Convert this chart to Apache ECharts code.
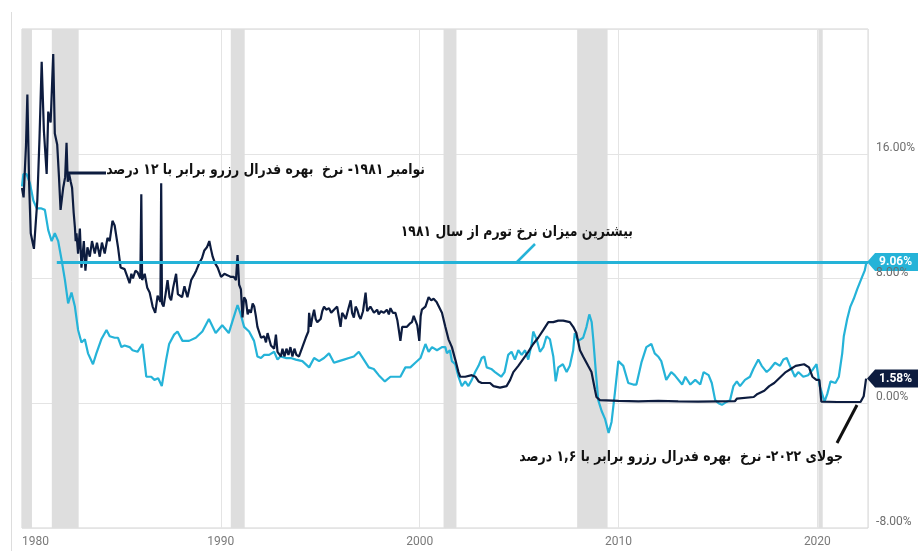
<!DOCTYPE html>
<html>
<head>
<meta charset="utf-8">
<script src="https://cdn.jsdelivr.net/npm/echarts@6/dist/echarts.min.js"></script>
<style>
html,body{margin:0;padding:0;background:#fff;}
#main{width:918px;height:551px;}
</style>
</head>
<body>
<div id="main"></div>
<script>
// نرخ بهره فدرال رزرو (سال اعشاری، درصد)
const fedRate = [
  [1980.00,13.8],[1980.08,13.2],[1980.2,16.5],[1980.27,19.8],[1980.36,14.0],[1980.44,10.9],[1980.6,9.9],[1980.77,13.0],[1980.88,17.0],[1980.99,21.9],
  [1981.1,17.5],[1981.24,14.7],[1981.32,18.7],[1981.44,18.0],[1981.57,22.4],[1981.65,17.3],[1981.77,16.6],[1981.86,14.5],[1981.94,12.4],
  [1982.07,13.8],[1982.17,14.5],[1982.24,16.7],[1982.3,14.2],[1982.37,14.7],[1982.45,14.2],[1982.52,13.8],[1982.6,12.2],[1982.66,11.3],[1982.7,10.4],
  [1982.74,10.9],[1982.82,9.6],[1982.91,11.2],[1982.99,8.7],[1983.11,10.4],[1983.19,8.5],[1983.29,10.0],[1983.41,9.4],[1983.52,10.4],[1983.66,9.6],
  [1983.77,10.3],[1983.91,9.4],[1984.02,10.3],[1984.16,9.6],[1984.3,10.6],[1984.41,10.4],[1984.55,11.7],[1984.66,11.4],[1984.83,10.0],[1984.96,8.7],
  [1985.16,8.6],[1985.3,8.1],[1985.41,7.7],[1985.5,8.3],[1985.58,8.0],[1985.7,8.5],[1985.81,8.4],[1985.95,8.0],[1986.0,13.4],[1986.04,7.9],
  [1986.17,8.3],[1986.3,7.4],[1986.42,7.1],[1986.57,6.2],[1986.7,5.8],[1986.82,6.9],[1986.96,6.5],[1987.0,14.1],[1987.04,6.4],[1987.12,6.2],
  [1987.22,7.0],[1987.32,7.9],[1987.42,6.8],[1987.5,6.6],[1987.6,7.4],[1987.75,8.3],[1987.84,7.0],[1987.92,7.1],[1988.05,6.8],[1988.17,7.5],
  [1988.32,6.8],[1988.51,7.9],[1988.64,8.2],[1988.76,8.5],[1988.92,9.0],[1989.05,9.3],[1989.17,9.8],[1989.3,10.0],[1989.42,10.4],[1989.5,9.9],
  [1989.59,9.4],[1989.7,9.0],[1989.84,8.7],[1990.01,8.1],[1990.18,8.3],[1990.35,8.2],[1990.51,8.1],[1990.65,8.1],[1990.76,7.9],[1990.84,9.5],
  [1990.92,7.6],[1991.01,7.3],[1991.09,5.5],[1991.17,6.8],[1991.26,6.6],[1991.35,5.7],[1991.42,6.0],[1991.51,5.8],[1991.6,6.4],[1991.68,6.2],
  [1991.76,5.6],[1991.84,4.9],[1991.93,4.9],[1992.02,4.2],[1992.1,4.2],[1992.18,4.3],[1992.27,3.9],[1992.35,4.5],[1992.43,4.5],[1992.52,3.7],
  [1992.6,3.8],[1992.68,3.5],[1992.77,4.4],[1992.85,3.3],[1993.02,3.0],[1993.1,3.5],[1993.2,3.0],[1993.3,3.5],[1993.4,3.1],[1993.5,3.6],
  [1993.6,3.0],[1993.7,3.5],[1993.8,3.1],[1993.93,3.0],[1994.1,3.6],[1994.27,4.2],[1994.4,4.6],[1994.44,5.8],[1994.52,4.9],[1994.6,5.5],
  [1994.69,6.0],[1994.77,5.4],[1994.85,5.2],[1995.02,5.4],[1995.1,5.9],[1995.19,6.2],[1995.3,6.0],[1995.44,6.1],[1995.55,5.8],[1995.69,6.0],
  [1995.85,6.2],[1996.02,4.9],[1996.1,5.8],[1996.2,5.6],[1996.28,5.4],[1996.4,6.0],[1996.53,6.6],[1996.6,5.8],[1996.69,5.5],[1996.78,6.2],
  [1996.86,6.0],[1996.95,5.6],[1997.03,5.4],[1997.15,5.9],[1997.28,7.1],[1997.36,5.9],[1997.44,5.8],[1997.52,6.2],[1997.6,6.1],[1997.7,5.8],
  [1997.78,5.8],[1997.86,6.0],[1997.94,5.7],[1998.05,5.9],[1998.2,5.8],[1998.35,6.0],[1998.45,5.7],[1998.53,6.1],[1998.65,5.8],[1998.78,5.8],
  [1998.88,5.3],[1998.95,4.7],[1999.03,4.0],[1999.12,4.9],[1999.2,4.8],[1999.36,4.9],[1999.5,5.1],[1999.61,5.2],[1999.7,5.6],[1999.78,5.5],
  [1999.88,5.0],[1999.98,4.0],[2000.05,5.6],[2000.11,6.0],[2000.29,6.2],[2000.45,6.8],[2000.58,6.6],[2000.7,6.7],[2000.85,6.5],[2000.95,6.6],
  [2001.12,5.8],[2001.29,4.9],[2001.45,4.1],[2001.62,3.6],[2001.79,2.8],[2001.95,2.0],[2002.04,1.7],[2002.29,1.7],[2002.62,1.8],[2002.8,1.7],
  [2002.96,1.4],[2003.12,1.3],[2003.54,1.3],[2003.71,1.1],[2004.04,1.0],[2004.37,1.1],[2004.55,1.5],[2004.71,2.0],[2004.96,2.4],[2005.13,2.7],
  [2005.3,3.0],[2005.46,3.3],[2005.71,3.8],[2005.96,4.2],[2006.22,4.7],[2006.47,5.2],[2006.72,5.2],[2006.97,5.3],[2007.22,5.3],[2007.55,5.2],
  [2007.72,4.9],[2007.88,4.5],[2008.06,3.4],[2008.22,3.0],[2008.47,2.4],[2008.64,2.0],[2008.81,0.9],[2008.89,0.4],[2009.06,0.2],[2010.0,0.15],
  [2011.0,0.12],[2012.0,0.15],[2013.0,0.12],[2014.0,0.1],[2015.0,0.12],[2015.85,0.13],[2015.96,0.3],[2016.8,0.4],[2016.99,0.6],[2017.33,0.8],
  [2017.58,1.1],[2017.83,1.3],[2018.16,1.7],[2018.41,2.0],[2018.66,2.2],[2018.91,2.4],[2019.33,2.5],[2019.58,2.3],[2019.75,1.7],[2019.95,1.5],
  [2020.1,1.5],[2020.2,0.1],[2020.3,0.05],[2021.0,0.08],[2022.17,0.08],[2022.25,0.2],[2022.33,0.45],[2022.45,1.58]
]

// نرخ تورم سالانه
const inflation = [
  [1980.0,13.9],[1980.07,14.7],[1980.23,14.7],[1980.4,14.1],[1980.57,13.0],[1980.74,12.5],[1980.95,12.5],[1981.15,12.4],[1981.32,11.1],[1981.49,10.4],
  [1981.65,10.9],[1981.82,10.4],[1981.99,9.2],[1982.16,7.9],[1982.32,6.4],[1982.49,7.1],[1982.66,6.2],[1982.82,4.7],[1982.99,3.9],[1983.16,4.1],
  [1983.32,3.2],[1983.57,2.5],[1983.74,3.2],[1983.99,4.1],[1984.25,4.7],[1984.41,4.3],[1984.66,4.2],[1984.83,4.2],[1985.0,3.6],[1985.16,3.7],
  [1985.41,3.6],[1985.56,3.4],[1985.81,3.3],[1986.06,3.8],[1986.25,1.7],[1986.5,1.7],[1986.66,1.5],[1986.85,1.6],[1987.03,1.1],[1987.25,2.8],
  [1987.4,3.8],[1987.65,4.4],[1987.82,4.6],[1988.07,4.0],[1988.4,4.0],[1988.74,4.2],[1989.07,4.6],[1989.4,5.4],[1989.74,4.5],[1990.07,5.0],
  [1990.4,4.5],[1990.57,5.2],[1990.84,6.3],[1991.0,5.7],[1991.17,4.9],[1991.42,4.6],[1991.67,4.0],[1991.84,3.0],[1992.02,2.9],[1992.18,3.1],
  [1992.43,3.1],[1992.68,3.3],[1992.85,2.8],[1993.0,3.0],[1993.27,2.9],[1993.52,2.9],[1993.77,2.8],[1994.1,2.7],[1994.44,2.3],[1994.69,2.9],
  [1994.94,2.7],[1995.19,2.9],[1995.44,3.2],[1995.69,2.6],[1995.94,2.7],[1996.19,2.8],[1996.44,2.9],[1996.69,3.0],[1996.94,3.3],[1997.19,2.8],
  [1997.44,2.3],[1997.69,2.2],[1997.94,1.8],[1998.25,1.4],[1998.53,1.7],[1998.78,1.7],[1999.03,1.7],[1999.28,2.3],[1999.53,2.3],[1999.78,2.6],
  [2000.04,2.9],[2000.29,3.8],[2000.45,3.3],[2000.62,3.6],[2000.87,3.4],[2001.12,3.6],[2001.29,3.6],[2001.37,3.2],[2001.52,3.4],[2001.62,2.7],
  [2001.79,2.5],[2001.95,1.7],[2002.12,1.1],[2002.29,1.4],[2002.45,1.1],[2002.62,1.5],[2002.79,2.0],[2002.96,2.4],[2003.12,2.9],[2003.25,3.0],
  [2003.37,2.3],[2003.6,2.2],[2003.79,2.0],[2004.1,1.7],[2004.27,2.0],[2004.45,3.1],[2004.62,3.3],[2004.79,2.8],[2004.96,3.4],[2005.13,3.1],
  [2005.3,3.4],[2005.46,2.8],[2005.63,3.8],[2005.71,4.6],[2005.88,4.1],[2006.05,3.3],[2006.22,3.6],[2006.38,4.3],[2006.55,4.1],[2006.72,3.0],
  [2006.84,1.4],[2006.97,2.3],[2007.2,2.5],[2007.39,2.0],[2007.55,2.4],[2007.72,3.4],[2007.8,4.5],[2007.97,4.0],[2008.22,4.2],[2008.39,4.9],
  [2008.53,5.7],[2008.65,5.2],[2008.73,4.1],[2008.86,2.0],[2008.98,0.2],[2009.15,-0.5],[2009.32,-1.0],[2009.5,-1.9],[2009.65,-1.2],[2009.82,0.7],
  [2009.99,2.7],[2010.24,2.4],[2010.49,1.3],[2010.74,1.2],[2010.9,1.2],[2011.15,2.6],[2011.4,3.6],[2011.65,3.8],[2011.82,3.2],[2011.99,3.0],
  [2012.15,2.7],[2012.4,1.5],[2012.65,2.0],[2012.82,1.8],[2013.2,1.2],[2013.36,1.7],[2013.61,1.2],[2013.86,1.5],[2014.11,1.2],[2014.28,2.0],
  [2014.53,1.8],[2014.69,1.3],[2014.86,0.2],[2015.03,0.0],[2015.2,-0.1],[2015.45,0.1],[2015.61,0.2],[2015.78,1.1],[2015.95,1.4],[2016.11,1.1],
  [2016.36,1.5],[2016.61,1.7],[2016.78,2.2],[2017.03,2.8],[2017.2,2.4],[2017.45,2.0],[2017.62,2.2],[2017.87,2.6],[2018.12,2.4],[2018.29,2.8],
  [2018.46,2.9],[2018.62,2.4],[2018.87,1.7],[2019.04,2.0],[2019.29,1.7],[2019.54,1.8],[2019.79,2.2],[2019.96,2.5],[2020.12,1.1],[2020.36,0.1],
  [2020.5,0.6],[2020.66,1.4],[2020.91,1.3],[2021.08,1.7],[2021.25,3.2],[2021.33,4.3],[2021.5,5.4],[2021.66,6.2],[2021.83,6.7],[2022.0,7.3],
  [2022.25,8.1],[2022.38,8.5],[2022.42,8.4],[2022.47,9.06]
]

// دوره های رکود (نوار خاکستری)
const recessions = [[1980.0,1980.5],[1981.5,1982.85],[1990.5,1991.2],[2001.2,2001.85],[2007.92,2009.45],[2020.05,2020.27]]

const xTicks = [1980,1990,2000,2010,2020]
const yTicks = [-8,0,8,16]
const xMin = 1980, xMax = 2022.55
const peakSince = 1981.75

const notes = [
  'نوامبر ۱۹۸۱- نرخ  بهره فدرال رزرو برابر با ۱۲ درصد',
  'بیشترین میزان نرخ تورم از سال ۱۹۸۱',
  'جولای ۲۰۲۲- نرخ  بهره فدرال رزرو برابر با ۱,۶ درصد'
]

const navy = '#0d1c3f'
const cyan = '#25b3d8'

const peak = inflation[inflation.length - 1][1]
const lastFed = fedRate[fedRate.length - 1][1]

let myChart = echarts.init(document.getElementById('main'))

const rtl = s => '\u202B' + s + '\u202C'
const noteFont = 'bold 15px "DejaVu Sans"'

let option = {
  animation: false,
  grid: {
    left: 22, right: 47, top: 29, bottom: 23,
    show: true, borderColor: '#d2d2d2', borderWidth: 1
  },
  xAxis: {
    type: 'value',
    min: xMin, max: xMax, interval: 10,
    axisLine: { show: false },
    axisTick: { show: false },
    splitLine: { show: true, lineStyle: { color: '#e4e4e4' } },
    axisLabel: {
      color: '#7a7a7a', fontSize: 12, fontFamily: 'Roboto', margin: 8,
      alignMinLabel: 'left', showMaxLabel: false,
      formatter: v => xTicks.indexOf(v) >= 0 ? String(v) : ''
    }
  },
  yAxis: {
    type: 'value', position: 'right',
    min: -8, max: 24, interval: 8,
    axisLine: { show: false },
    axisTick: { show: false },
    splitLine: { show: true, lineStyle: { color: '#e4e4e4' } },
    axisLabel: {
      color: '#6e6e6e', fontSize: 12, fontFamily: 'Roboto', margin: 8,
      verticalAlign: 'bottom',
      formatter: v => yTicks.indexOf(v) >= 0 ? v.toFixed(2) + '%' : ''
    }
  },
  series: [
    {
      name: 'recession', type: 'line', data: [], silent: true, z: 1,
      markArea: {
        silent: true,
        itemStyle: { color: '#dedede' },
        data: recessions.map(r => [{ xAxis: r[0] }, { xAxis: r[1] }])
      }
    },
    {
      name: 'inflation', type: 'line', data: inflation, showSymbol: false, z: 2,
      lineStyle: { color: cyan, width: 2.2 }
    },
    {
      name: 'fed', type: 'line', data: fedRate, showSymbol: false, z: 3,
      lineStyle: { color: navy, width: 2.2 }
    },
    {
      name: 'peak', type: 'line', data: [], silent: true, z: 5,
      markLine: {
        silent: true, symbol: 'none',
        label: { show: false },
        lineStyle: { color: cyan, width: 3, type: 'solid' },
        data: [[{ coord: [peakSince, peak] }, { coord: [xMax, peak] }]]
      }
    }
  ]
}
myChart.setOption(option)

// برچسب ها و یادداشت ها
const pc = myChart.convertToPixel({ gridIndex: 0 }, [xMax, peak])
const pf = myChart.convertToPixel({ gridIndex: 0 }, [xMax, lastFed])
const tag = (y, color, txt) => ({
  type: 'group', z: 50,
  children: [
    { type: 'polygon', shape: { points: [[pc[0] - 1, y], [pc[0] + 7, y - 9], [918, y - 9], [918, y + 9], [pc[0] + 7, y + 9]] }, style: { fill: color } },
    { type: 'text', x: pc[0] + 11, y: y, style: { text: txt, fill: '#fff', font: 'bold 12px Roboto', textVerticalAlign: 'middle' } }
  ]
})
const note = (x, y, txt) => ({
  type: 'text', z: 40, x: x, y: y, scaleX: 0.83,
  style: { text: rtl(txt), font: noteFont, fill: '#111', textAlign: 'right', textVerticalAlign: 'middle' }
})

myChart.setOption({
  graphic: [
    { type: 'line', shape: { x1: 11.5, y1: 12, x2: 11.5, y2: 551 }, style: { stroke: '#dddddd', lineWidth: 1 } },
    tag(pc[1], cyan, peak.toFixed(2) + '%'),
    tag(pf[1], navy, lastFed.toFixed(2) + '%'),
    { type: 'line', z: 40, shape: { x1: 68, y1: 173, x2: 106, y2: 173 }, style: { stroke: navy, lineWidth: 3 } },
    note(425, 170, notes[0]),
    { type: 'line', z: 40, shape: { x1: 517, y1: 262, x2: 535, y2: 244 }, style: { stroke: cyan, lineWidth: 2.5 } },
    note(633, 232, notes[1]),
    { type: 'line', z: 40, shape: { x1: 837, y1: 443, x2: 857, y2: 405 }, style: { stroke: '#111', lineWidth: 3 } },
    note(843, 457, notes[2])
  ]
})
</script>
</body>
</html>
